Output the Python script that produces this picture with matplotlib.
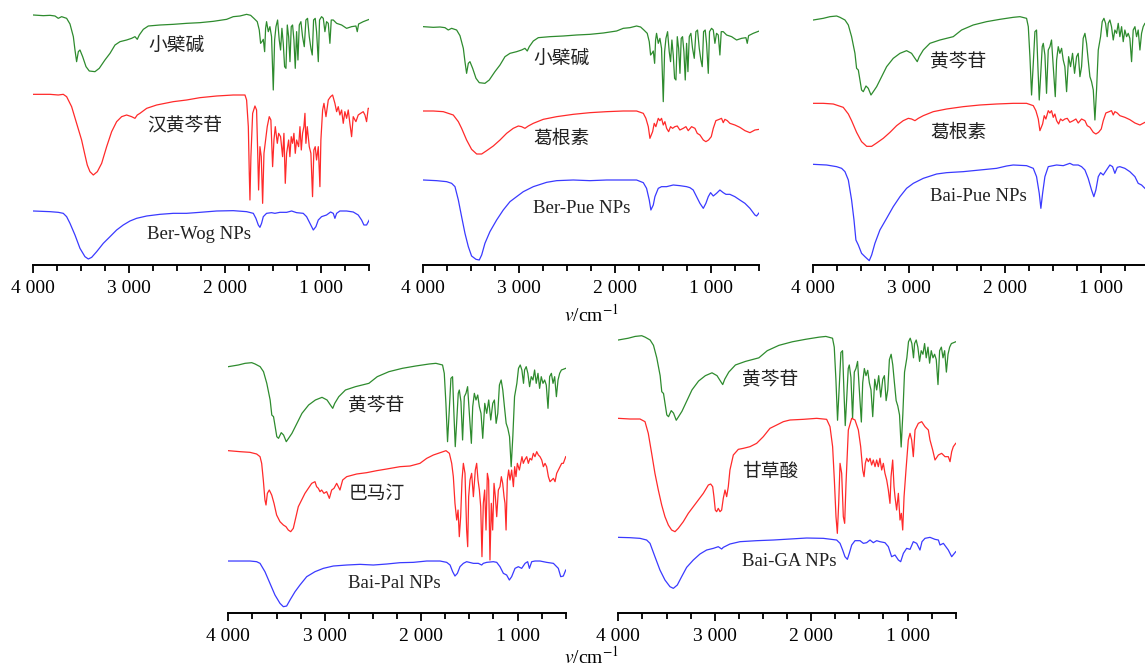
import matplotlib
matplotlib.use("Agg")
import matplotlib.pyplot as plt
from matplotlib.ticker import MultipleLocator, FuncFormatter

plt.rcParams['mathtext.fontset'] = 'stix'

# ---- spectra: wavenumber (cm-1) and relative transmittance (a.u., 0 = start of curve) ----
BER_WN = [4000, 3896, 3826, 3774, 3740, 3705, 3653, 3618, 3583, 3566, 3549, 3531, 3514, 3486, 3451, 3417,
          3358, 3313, 3254, 3201, 3149, 3097, 3028, 2976, 2941, 2917, 2896, 2854, 2802, 2681, 2542, 2403,
          2264, 2125, 1986, 1917, 1847, 1778, 1736, 1702, 1667, 1646, 1632, 1618, 1604, 1590, 1580, 1570,
          1552, 1535, 1518, 1500, 1486, 1472, 1455, 1438, 1424, 1410, 1396, 1382, 1368, 1354, 1340, 1326,
          1313, 1299, 1285, 1271, 1257, 1243, 1229, 1212, 1195, 1177, 1160, 1143, 1125, 1108, 1094, 1080,
          1063, 1049, 1031, 1018, 997, 979, 962, 945, 927, 910, 896, 875, 840, 788, 736, 684, 639, 625,
          611, 563, 500]
BER_T = [0, -2, -1, -3, -10, -5, -10, -27, -65, -105, -140, -110, -105, -125, -155, -168,
         -170, -160, -135, -115, -90, -80, -75, -70, -65, -73, -60, -43, -33, -30, -28, -25,
         -23, -19, -13, -5, -3, 2, -1, -10, -20, -45, -85, -80, -73, -110, -40, -20,
         -50, -35, -65, -225, -75, -35, -15, -75, -105, -40, -85, -155, -160, -30, -65, -140,
         -35, -30, -75, -160, -50, -135, -30, -20, -65, -95, -15, -10, -65, -100, -120, -15,
         -10, -50, -140, -15, -5, -10, -50, -20, -25, -85, -15, -15, -25, -30, -40, -35, -33, -50,
         -27, -20, -13]

WOG_WN = [4000, 3826, 3740, 3688, 3653, 3601, 3549, 3497, 3462, 3438, 3410, 3375, 3333, 3288, 3236, 3184,
          3132, 3080, 3028, 2976, 2941, 2917, 2889, 2819, 2715, 2542, 2403, 2264, 2090, 1917, 1795, 1778,
          1760, 1750, 1743, 1733, 1715, 1691, 1674, 1663, 1653, 1639, 1625, 1611, 1597, 1580, 1563, 1542,
          1525, 1507, 1493, 1479, 1458, 1444, 1424, 1403, 1389, 1375, 1361, 1340, 1327, 1313, 1299, 1285,
          1271, 1257, 1236, 1222, 1208, 1195, 1181, 1170, 1160, 1146, 1125, 1108, 1091, 1077, 1063, 1049,
          1031, 1014, 1004, 986, 972, 951, 927, 903, 882, 858, 840, 823, 806, 788, 771, 754, 736, 719,
          702, 684, 667, 639, 615, 590, 563, 545, 528, 511, 500]
WOG_T = [0, 0, -2, 0, -7, -37, -87, -137, -182, -212, -232, -242, -232, -207, -157, -112,
         -82, -67, -62, -67, -72, -62, -57, -42, -32, -22, -17, -10, -5, -2, -2, -17,
         -97, -237, -317, -187, -57, -35, -47, -167, -287, -157, -187, -327, -177, -137, -97, -67,
         -77, -217, -137, -97, -147, -117, -127, -187, -117, -267, -177, -137, -187, -127, -147, -117,
         -177, -137, -157, -97, -167, -117, -97, -57, -147, -97, -157, -177, -307, -167, -157, -197,
         -157, -277, -137, -47, -27, -67, -17, -7, -2, -27, -52, -37, -62, -47, -87, -52, -72, -47,
         -87, -127, -67, -82, -62, -57, -52, -62, -82, -42, -42]

BERWOG_WN = [4000, 3826, 3740, 3688, 3653, 3618, 3566, 3514, 3462, 3427, 3392, 3340, 3271, 3201, 3132, 3063,
             2993, 2924, 2819, 2681, 2542, 2403, 2264, 2090, 1917, 1778, 1708, 1681, 1656, 1639, 1622, 1604,
             1570, 1518, 1483, 1431, 1361, 1309, 1257, 1188, 1153, 1118, 1083, 1056, 1031, 997, 945, 903,
             875, 858, 840, 806, 736, 667, 615, 580, 556, 528, 500]
BERWOG_T = [0, -2, -4, -7, -17, -37, -72, -112, -137, -144, -139, -122, -97, -77, -57, -42,
            -30, -22, -15, -10, -7, -7, -4, 0, 1, -2, -7, -22, -42, -49, -37, -17,
            -7, -5, -7, -4, -4, 0, -5, -7, -17, -37, -57, -47, -27, -17, -12, -3,
            -7, -22, -7, 0, 0, -3, -12, -27, -42, -42, -27]

PUE_WN = [4000, 3896, 3792, 3740, 3688, 3635, 3601, 3549, 3497, 3444, 3392, 3340, 3271, 3201, 3132, 3063,
          3010, 2976, 2941, 2906, 2854, 2750, 2611, 2438, 2264, 2090, 1917, 1778, 1708, 1681, 1656, 1639,
          1625, 1611, 1594, 1577, 1552, 1535, 1518, 1500, 1483, 1465, 1444, 1424, 1403, 1379, 1354, 1327,
          1292, 1264, 1240, 1205, 1170, 1146, 1118, 1083, 1056, 1028, 1000, 979, 952, 917, 893, 875,
          858, 833, 806, 754, 702, 649, 597, 545, 500]
PUE_T = [0, 0, -2, -7, -12, -32, -52, -87, -115, -129, -129, -119, -105, -87, -67, -52,
         -45, -47, -52, -45, -37, -25, -17, -10, -5, -2, 0, 0, -7, -22, -47, -82,
         -72, -62, -37, -47, -22, -29, -22, -42, -32, -52, -62, -47, -52, -47, -45, -57,
         -52, -47, -59, -47, -52, -67, -72, -87, -92, -87, -77, -52, -29, -25, -22, -35,
         -25, -29, -37, -42, -49, -59, -65, -57, -55]

BERPUE_WN = [4000, 3861, 3757, 3705, 3670, 3635, 3601, 3566, 3531, 3497, 3451, 3417, 3392, 3358, 3306, 3236,
             3167, 3097, 3028, 2958, 2854, 2715, 2611, 2438, 2264, 2090, 1917, 1778, 1708, 1674, 1646, 1629,
             1604, 1587, 1552, 1518, 1465, 1396, 1327, 1257, 1222, 1188, 1153, 1118, 1083, 1056, 1031, 1007,
             979, 945, 910, 875, 847, 806, 754, 702, 649, 597, 545, 528, 500]
BERPUE_T = [0, -2, -5, -10, -20, -60, -110, -160, -200, -228, -238, -240, -225, -190, -155, -120,
            -90, -65, -50, -35, -20, -7, -2, 0, -2, 0, 0, 0, -8, -25, -60, -90,
            -75, -50, -25, -20, -20, -15, -17, -20, -23, -30, -50, -70, -85, -70, -50, -38,
            -48, -40, -30, -38, -43, -43, -50, -60, -70, -85, -105, -108, -98]

BAI_WN = [4000, 3896, 3826, 3757, 3722, 3670, 3635, 3601, 3566, 3549, 3531, 3514, 3497, 3479, 3451, 3427,
          3399, 3375, 3340, 3288, 3236, 3167, 3097, 3028, 2976, 2941, 2917, 2896, 2854, 2785, 2681, 2542,
          2455, 2334, 2195, 2056, 1917, 1847, 1778, 1760, 1743, 1726, 1708, 1691, 1674, 1660, 1646, 1632,
          1615, 1604, 1587, 1570, 1552, 1535, 1518, 1500, 1479, 1465, 1448, 1431, 1413, 1396, 1379, 1361,
          1340, 1320, 1299, 1278, 1257, 1240, 1222, 1205, 1188, 1170, 1153, 1136, 1118, 1101, 1083, 1066,
          1049, 1031, 1007, 990, 972, 955, 938, 927, 910, 893, 875, 858, 840, 823, 806, 788, 771, 754,
          736, 719, 702, 684, 667, 649, 632, 615, 597, 580, 563, 545, 500]
BAI_T = [0, 5, 10, 12, 8, 0, -15, -50, -100, -145, -150, -180, -210, -215, -198, -205,
         -225, -215, -200, -170, -140, -115, -100, -92, -100, -115, -125, -110, -90, -70, -60, -50,
         -30, -15, -5, 2, 8, 10, 5, -20, -110, -225, -130, -35, -30, -140, -240, -170,
         -80, -70, -105, -220, -90, -80, -60, -140, -230, -120, -80, -100, -85, -120, -140, -215,
         -110, -140, -100, -160, -110, -100, -170, -140, -55, -40, -70, -120, -170, -185, -210, -300,
         -210, -90, -50, -5, 5, -10, -50, -10, 0, -20, -60, -30, -40, -10, -50, -20, -65, -30,
         -50, -40, -55, -125, -30, -20, -50, -30, -90, -40, -20, -10, -5]

BAIPUE_WN = [4000, 3861, 3757, 3705, 3670, 3635, 3601, 3576, 3556, 3531, 3497, 3462, 3417, 3392, 3358, 3306,
             3236, 3167, 3097, 3028, 2958, 2854, 2715, 2611, 2438, 2264, 2090, 1986, 1917, 1778, 1708, 1674,
             1646, 1629, 1611, 1587, 1552, 1518, 1465, 1396, 1327, 1292, 1240, 1205, 1170, 1136, 1101, 1077,
             1056, 1031, 1007, 979, 945, 910, 882, 858, 833, 806, 754, 702, 649, 615, 580, 545, 500]
BAIPUE_T = [0, -2, -7, -12, -22, -47, -107, -167, -227, -242, -267, -277, -289, -272, -237, -197,
            -162, -127, -97, -72, -57, -42, -29, -25, -22, -17, -12, -5, -2, -4, -12, -37,
            -87, -132, -87, -37, -7, -5, -2, -4, 3, -2, -2, -7, -17, -42, -77, -97,
            -77, -37, -25, -32, -17, -2, -7, -27, -9, -7, -12, -22, -37, -57, -62, -72, -82]

PAL_WN = [4000, 3879, 3775, 3706, 3671, 3654, 3637, 3620, 3609, 3595, 3575, 3550, 3526, 3499, 3464, 3429,
          3402, 3378, 3353, 3326, 3298, 3274, 3239, 3205, 3170, 3135, 3101, 3084, 3066, 3049, 3032, 3008,
          2980, 2952, 2928, 2904, 2876, 2859, 2842, 2814, 2772, 2669, 2565, 2461, 2357, 2219, 2115, 2012,
          1942, 1873, 1804, 1742, 1707, 1683, 1666, 1649, 1631, 1617, 1604, 1590, 1576, 1562, 1545, 1528,
          1517, 1507, 1493, 1476, 1458, 1438, 1424, 1410, 1396, 1382, 1369, 1355, 1341, 1327, 1313, 1300,
          1286, 1272, 1258, 1244, 1230, 1216, 1199, 1182, 1168, 1154, 1140, 1130, 1119, 1106, 1092, 1078,
          1061, 1043, 1030, 1016, 1002, 981, 967, 954, 940, 926, 905, 888, 871, 853, 836, 819, 801, 784,
          767, 749, 732, 715, 698, 680, 663, 646, 628, 611, 594, 577, 559, 542, 525, 500]
PAL_T = [0, -3, -5, -10, -18, -38, -88, -148, -163, -128, -118, -133, -158, -193, -213, -223,
         -228, -238, -243, -233, -198, -168, -148, -128, -113, -98, -93, -108, -113, -123, -118, -128,
         -123, -143, -118, -113, -98, -108, -118, -88, -78, -70, -66, -60, -55, -48, -46, -38,
         -23, -13, -6, 0, -8, -38, -78, -158, -208, -178, -258, -198, -88, -38, -68, -238,
         -288, -138, -88, -68, -138, -58, -38, -88, -118, -168, -318, -158, -118, -238, -68, -88,
         -328, -158, -238, -98, -138, -198, -118, -108, -78, -98, -138, -158, -238, -88, -58, -88,
         -58, -108, -48, -78, -38, -58, -38, -18, -38, -28, -18, -38, -23, -28, -8, -18, -3, -13,
         -18, -28, -48, -38, -48, -78, -93, -88, -83, -93, -68, -58, -48, -38, -38, -18]

BAIPAL_WN = [4000, 3879, 3775, 3706, 3671, 3620, 3568, 3516, 3464, 3429, 3395, 3360, 3308, 3257, 3187, 3101,
             3014, 2911, 2772, 2634, 2496, 2357, 2219, 2081, 1942, 1804, 1735, 1700, 1673, 1649, 1624, 1597,
             1562, 1528, 1458, 1407, 1372, 1355, 1320, 1251, 1216, 1182, 1147, 1113, 1085, 1061, 1026, 992,
             957, 922, 895, 877, 853, 819, 767, 698, 628, 577, 552, 525, 500]
BAIPAL_T = [0, 0, 0, -2, -7, -32, -67, -102, -127, -137, -135, -117, -92, -72, -47, -32,
            -22, -15, -12, -10, -12, -9, -5, -4, 0, 0, -4, -12, -32, -45, -37, -17,
            -7, -2, -7, -7, -12, -7, -4, -2, -4, -17, -37, -42, -57, -47, -22, -17,
            -22, -7, -2, -22, -2, 0, 0, -4, -7, -22, -47, -45, -27]

GA_WN = [4000, 3879, 3775, 3723, 3689, 3654, 3620, 3585, 3550, 3516, 3481, 3447, 3412, 3378, 3326, 3274,
         3222, 3170, 3118, 3066, 3042, 3021, 3008, 2994, 2980, 2963, 2945, 2928, 2911, 2893, 2876, 2859,
         2842, 2807, 2755, 2703, 2634, 2565, 2496, 2427, 2357, 2288, 2219, 2081, 1942, 1839, 1804, 1777,
         1759, 1742, 1728, 1714, 1700, 1683, 1666, 1652, 1638, 1614, 1579, 1545, 1510, 1486, 1465, 1451,
         1438, 1424, 1406, 1389, 1372, 1355, 1337, 1320, 1303, 1286, 1268, 1251, 1234, 1216, 1199, 1182,
         1171, 1154, 1140, 1130, 1113, 1095, 1078, 1064, 1050, 1036, 1016, 992, 974, 957, 940, 922,
         888, 853, 819, 784, 767, 739, 715, 680, 646, 611, 577, 559, 542, 525, 500]
GA_T = [0, -2, -2, -10, -45, -105, -165, -215, -260, -295, -320, -335, -340, -330, -310, -285,
        -265, -245, -225, -200, -197, -205, -235, -275, -280, -270, -280, -275, -240, -215, -235, -205,
        -155, -110, -93, -90, -85, -75, -55, -30, -20, -10, -5, -3, 0, -3, -25, -85,
        -185, -295, -345, -255, -135, -165, -295, -315, -195, -35, 0, -5, -35, -85, -155, -175,
        -135, -120, -130, -120, -140, -125, -145, -125, -145, -120, -155, -135, -165, -185, -215, -255,
        -175, -125, -205, -235, -275, -225, -305, -285, -335, -235, -155, -65, -45, -65, -115, -35,
        -15, -10, -25, -35, -65, -95, -125, -110, -105, -115, -115, -130, -100, -85, -75]

BAIGA_WN = [4000, 3879, 3775, 3706, 3671, 3620, 3568, 3516, 3464, 3429, 3388, 3343, 3291, 3222, 3153, 3084,
            3014, 2963, 2928, 2911, 2842, 2738, 2565, 2392, 2219, 2046, 1873, 1735, 1700, 1673, 1649, 1624,
            1604, 1579, 1545, 1493, 1458, 1424, 1389, 1355, 1320, 1286, 1234, 1199, 1165, 1130, 1095, 1071,
            1043, 1009, 974, 940, 905, 871, 850, 819, 767, 715, 680, 663, 628, 577, 542, 500]
BAIGA_T = [0, -1, -3, -8, -18, -58, -98, -128, -148, -153, -143, -118, -90, -68, -50, -38,
           -33, -28, -35, -30, -20, -13, -10, -8, -5, -2, -3, -8, -18, -38, -58, -66,
           -48, -23, -10, -10, -18, -16, -8, -16, -10, -13, -16, -28, -58, -53, -68, -73,
           -48, -33, -36, -13, -18, -38, -13, -3, 0, -6, -8, -23, -18, -38, -58, -43]

SPECTRA = {
    'ber': (BER_WN, BER_T), 'wog': (WOG_WN, WOG_T), 'berwog': (BERWOG_WN, BERWOG_T),
    'pue': (PUE_WN, PUE_T), 'berpue': (BERPUE_WN, BERPUE_T), 'bai': (BAI_WN, BAI_T),
    'baipue': (BAIPUE_WN, BAIPUE_T), 'pal': (PAL_WN, PAL_T), 'baipal': (BAIPAL_WN, BAIPAL_T),
    'ga': (GA_WN, GA_T), 'baiga': (BAIGA_WN, BAIGA_T),
}

GREEN = '#2e8b2e'
RED = '#ff2a2a'
BLUE = '#3a3aff'

# panel layout: rect, ylim top, curves (key, colour, level, scale), labels (text, x, y)
PANELS = [
    ([0.0291, 0.6033, 0.2934, 0.3967], 795,
     [('ber', GREEN, 750, 1.0), ('wog', RED, 512, 1.0), ('berwog', BLUE, 162, 1.0)],
     [('小檗碱', 2800, 660), ('汉黄芩苷', 2818, 417), ('Ber-Wog NPs', 2819, 90)]),
    ([0.3697, 0.6033, 0.2934, 0.3967], 795,
     [('ber', GREEN, 715, 1.0), ('pue', RED, 462, 1.0), ('berpue', BLUE, 255, 1.0)],
     [('小檗碱', 2854, 620), ('葛根素', 2854, 380), ('Ber-Pue NPs', 2854, 170)]),
    ([0.7103, 0.6033, 0.2934, 0.3967], 795,
     [('bai', GREEN, 735, 1.0), ('pue', RED, 485, 1.0), ('baipue', BLUE, 302, 1.0)],
     [('黄芩苷', 2785, 610), ('葛根素', 2785, 397), ('Bai-Pue NPs', 2785, 205)]),
    ([0.1994, 0.0828, 0.2947, 0.4232], 848,
     [('bai', GREEN, 738, 1.0), ('pal', RED, 486, 1.0), ('baipal', BLUE, 155, 1.0)],
     [('黄芩苷', 2755, 620), ('巴马汀', 2755, 358), ('Bai-Pal NPs', 2755, 88)]),
    ([0.5400, 0.0828, 0.2947, 0.4232], 848,
     [('bai', GREEN, 818, 1.07), ('ga', RED, 583, 1.0), ('baiga', BLUE, 226, 1.0)],
     [('黄芩苷', 2720, 698), ('甘草酸', 2720, 423), ('Bai-GA NPs', 2720, 153)]),
]

fig = plt.figure(figsize=(11.45, 6.68), dpi=100)

for rect, ytop, curves, labels in PANELS:
    ax = fig.add_axes(rect)
    for key, color, level, scale in curves:
        wn, t = SPECTRA[key]
        ax.plot(wn, [level + scale * v for v in t], color=color, lw=0.9)
    for text, x, y in labels:
        if text.isascii():
            fam = ['Liberation Serif']
        else:
            fam = ['Noto Sans CJK SC', 'DejaVu Sans']
        ax.text(x, y, text, ha='left', va='center', fontsize=13.5, family=fam, color='#222222')
    ax.set_xlim(4000, 500)
    ax.set_ylim(0, ytop)
    for s in ['top', 'left', 'right']:
        ax.spines[s].set_visible(False)
    ax.spines['bottom'].set_linewidth(1.4)
    ax.set_yticks([])
    ax.xaxis.set_major_locator(MultipleLocator(1000))
    ax.xaxis.set_minor_locator(MultipleLocator(250))
    ax.xaxis.set_major_formatter(FuncFormatter(lambda v, p: f"{int(v):,}".replace(',', ' ')))
    ax.tick_params(axis='x', which='major', direction='out', length=6, width=1.3, pad=5)
    ax.tick_params(axis='x', which='minor', direction='out', length=4, width=1.3)
    for lab in ax.get_xticklabels():
        lab.set_family('Liberation Serif')
        lab.set_fontsize(14)
    ax.patch.set_alpha(0)

for ypx in (315, 657):
    fig.text(591 / 1145, 1 - ypx / 668, r'$v$/cm$^{-1}$', ha='center', va='center',
             fontsize=14, family='Liberation Serif')

fig.savefig('out.png', dpi=100)
